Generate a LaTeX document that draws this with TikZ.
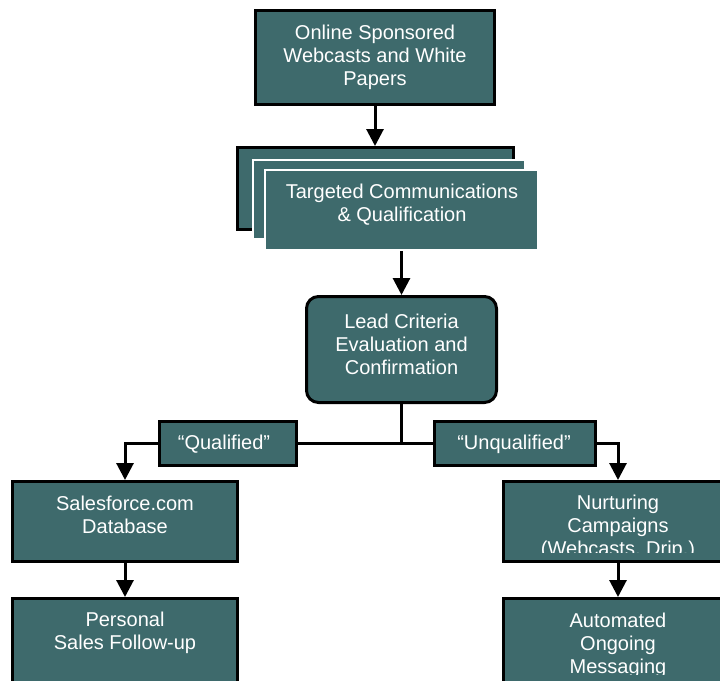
\documentclass[tikz,border=0pt]{standalone}
\usepackage{fontspec}
\setmainfont{Liberation Sans}
\usetikzlibrary{arrows.meta}
\definecolor{tealfill}{RGB}{62,106,108}
\begin{document}
\begin{tikzpicture}[x=1pt,y=-1pt,
  box/.style={draw=black, line width=3pt, fill=tealfill, rectangle, inner sep=0pt},
  wbox/.style={draw=white, line width=2pt, fill=tealfill, rectangle, inner sep=0pt},
  txt/.style={text=white, align=center, inner sep=0pt, font=\fontsize{20}{23}\selectfont,
    execute at begin node=\strut, execute at end node=\strut},
  conn/.style={line width=3pt, draw=black},
  arr/.style={conn, -{Triangle[width=17pt,length=17pt]}}]
\fill[white] (0,0) rectangle (720,680);
\useasboundingbox (0,0) rectangle (720,680);

% top box
\node[box, minimum width=239pt, minimum height=94pt] (web) at (375,57.5) {};
\node[txt] (webt) at (375,58.4) {Online Sponsored\\Webcasts and White\\Papers};

% stacked boxes
\node[box, minimum width=276pt, minimum height=82pt] (back) at (375.5,188.5) {};
\node[wbox, minimum width=272pt, minimum height=79pt] (mid) at (389,199.5) {};
\node[wbox, minimum width=273pt, minimum height=80pt] (front) at (401.5,210) {};
\node[txt] (frontt) at (402,206) {Targeted Communications\\\& Qualification};

% lead criteria
\node[box, rounded corners=12pt, minimum width=190pt, minimum height=106pt] (lead) at (401.5,349.5) {};
\node[txt] (leadt) at (401.5,348) {Lead Criteria\\Evaluation and\\Confirmation};

% labels
\node[box, minimum width=137pt, minimum height=44pt] (q) at (228,443.5) {};
\node[box, minimum width=161pt, minimum height=44pt] (u) at (515,443.5) {};

% connectors
\draw[arr] (web.south) -- (web.south |- back.north);
\draw[arr] (front.south) -- (lead.north);
\draw[conn] (lead.south) -- (lead.south |- q.east);
\draw[conn] (q.east) -- (u.west);

\node[txt] (qt) at (224,445) {“Qualified”};
\node[txt] (ut) at (514,445) {“Unqualified”};

% lower boxes
\node[box, minimum width=225pt, minimum height=80pt] (sales) at (125,521.5) {};
\node[txt] (salest) at (125,518) {Salesforce.com\\Database};
\node[box, minimum width=225pt, minimum height=90pt] (pers) at (125,643.5) {};
\node[txt] (perst) at (125,634) {Personal\\Sales Follow-up};
\node[box, minimum width=229pt, minimum height=80pt] (nurt) at (618,521.5) {};
\begin{scope}
  \clip (505,483) rectangle (731,552);
  \node[txt] (nurtt) at (618,528.4) {Nurturing\\Campaigns\\(Webcasts, Drip.)};
\end{scope}
\node[box, minimum width=229pt, minimum height=90pt] (auto) at (618,643.5) {};
\begin{scope}
  \clip (505,600) rectangle (731,674.5);
  \node[txt] (autot) at (618,647) {Automated\\Ongoing\\Messaging};
\end{scope}

\draw[arr] (q.west) -| (sales.north);
\draw[arr] (u.east) -| (nurt.north);
\draw[arr] (sales.south) -- (pers.north);
\draw[arr] (nurt.south) -- (auto.north);
\end{tikzpicture}
\end{document}
